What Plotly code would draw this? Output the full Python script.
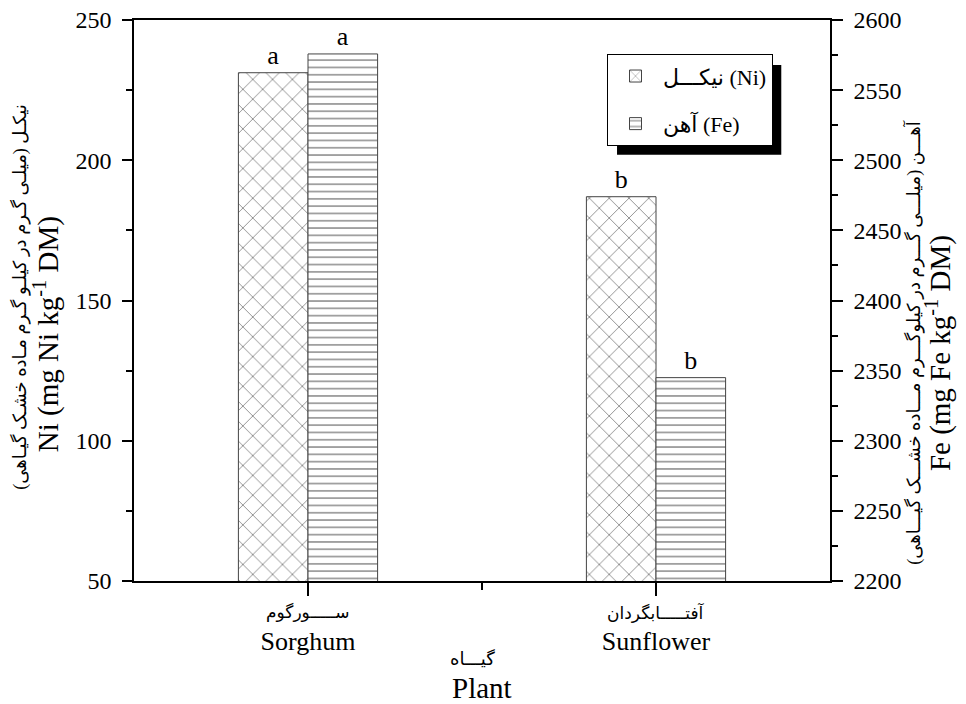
import plotly.graph_objects as go

# ---- data ----
plants_en = ["Sorghum", "Sunflower"]
plants_fa = ["ســـــورگوم", "آفتـــــابگردان"]
plant_pos = [0, 1]
ni_values = [231.2, 187.0]
fe_values = [2575.8, 2345.0]
ni_letters = ["a", "b"]
fe_letters = ["a", "b"]
ni_ticks = [50, 100, 150, 200, 250]
fe_ticks = [2200, 2250, 2300, 2350, 2400, 2450, 2500, 2550, 2600]

SERIF = "Liberation Serif, Times New Roman, DejaVu Sans, serif"

fig = go.Figure()

fig.add_trace(go.Bar(
    x=plant_pos, y=ni_values, name="نیکـــل (Ni)", legendgroup="ni",
    width=0.2, offset=-0.2,
    marker=dict(color="white", line=dict(color="#444", width=1),
                pattern=dict(shape="x", size=14, solidity=0.08,
                             fgcolor="#444", bgcolor="white", fillmode="replace")),
    text=ni_letters, textposition="outside", cliponaxis=False,
    textfont=dict(family=SERIF, size=26, color="black"),
    yaxis="y",
))
fig.add_trace(go.Bar(
    x=plant_pos, y=fe_values, name="آهن (Fe)", legendgroup="fe",
    width=0.2, offset=0,
    marker=dict(color="white", line=dict(color="#444", width=1),
                pattern=dict(shape="-", size=7.3, solidity=0.14,
                             fgcolor="#555", bgcolor="white", fillmode="replace")),
    text=fe_letters, textposition="outside", cliponaxis=False,
    textfont=dict(family=SERIF, size=26, color="black"),
    yaxis="y2",
))

fig.update_layout(
    width=958, height=696,
    margin=dict(l=126, r=136, t=12, b=123, autoexpand=False),
    paper_bgcolor="white", plot_bgcolor="white",
    font=dict(family=SERIF, size=24, color="black"),
    showlegend=True,
    legend=dict(x=0.6796, y=0.939, xanchor="left", yanchor="top",
                bgcolor="white", bordercolor="black", borderwidth=1,
                font=dict(family=SERIF, size=22, color="black"),
                itemwidth=45, traceorder="grouped", tracegroupgap=16),
    xaxis=dict(range=[-0.5, 1.5], tickmode="array", tickvals=plant_pos, ticktext=plants_en,
               showline=True, linecolor="black", linewidth=1.5, mirror=True,
               ticks="outside", ticklen=13, tickwidth=1.5, tickcolor="black",
               minor=dict(tickmode="array", tickvals=[0.5], ticks="outside", ticklen=7,
                          tickwidth=1.5, tickcolor="black"),
               showgrid=False, zeroline=False, automargin=False, ticklabelstandoff=23,
               ticklabeloverflow="allow",
               tickfont=dict(family=SERIF, size=26)),
    yaxis=dict(range=[50, 250], tickmode="array", tickvals=ni_ticks,
               showline=True, linecolor="black", linewidth=1.5,
               ticks="outside", ticklen=10, tickwidth=1.5, tickcolor="black",
               minor=dict(dtick=25, ticks="outside", ticklen=6, tickwidth=1.5, tickcolor="black"),
               showgrid=False, zeroline=False, ticklabelstandoff=6, automargin=False,
               ticklabeloverflow="allow",
               tickfont=dict(family=SERIF, size=24)),
    yaxis2=dict(range=[2200, 2600], tickmode="array", tickvals=fe_ticks,
                overlaying="y", side="right",
                showline=True, linecolor="black", linewidth=1.5,
                ticks="outside", ticklen=11, tickwidth=1.5, tickcolor="black",
                minor=dict(dtick=25, ticks="outside", ticklen=6, tickwidth=1.5, tickcolor="black"),
                showgrid=False, zeroline=False, ticklabelstandoff=6, automargin=False,
                ticklabeloverflow="allow",
                tickfont=dict(family=SERIF, size=24)),
    barmode="overlay",
)

# Persian category labels under ticks
for xp, fa in zip(plant_pos, plants_fa):
    fig.add_annotation(x=xp, y=-0.0553, xref="x", yref="paper", text=fa,
                       showarrow=False, xanchor="center", yanchor="middle",
                       font=dict(family=SERIF, size=17, color="black"))

# legend shadow
fig.add_shape(type="rect", xref="paper", yref="paper",
              x0=0.694, x1=0.93, y0=0.76, y1=0.92,
              fillcolor="black", line=dict(width=0), layer="above")

annots = [
    dict(x=-0.1264, y=0.44, text="Ni (mg Ni kg<sup>-1</sup> DM)", size=29),
    dict(x=-0.163, y=0.506, text="نیکـل (میلـی گـرم در کیلـو گـرم مـاده خشـک گیـاهی)", size=18),
    dict(x=1.155, y=0.406, text="Fe (mg Fe kg<sup>-1</sup> DM)", size=29),
    dict(x=1.119, y=0.426, text="آهـــن (میلـــی گـــرم در کیلوگـــرم مـــاده خشـــک گیـــاهی)", size=18),
]
for a in annots:
    fig.add_annotation(x=a["x"], y=a["y"], xref="paper", yref="paper", text=a["text"],
                       textangle=-90, showarrow=False, xanchor="center", yanchor="middle",
                       font=dict(family=SERIF, size=a["size"], color="black"))

fig.add_annotation(x=0.487, y=-0.139, xref="paper", yref="paper", text="گیـــاه",
                   showarrow=False, xanchor="center", yanchor="middle",
                   font=dict(family=SERIF, size=18, color="black"))
fig.add_annotation(x=0.5, y=-0.1907, xref="paper", yref="paper", text="Plant",
                   showarrow=False, xanchor="center", yanchor="middle",
                   font=dict(family=SERIF, size=29, color="black"))

fig.write_html("out.html")
